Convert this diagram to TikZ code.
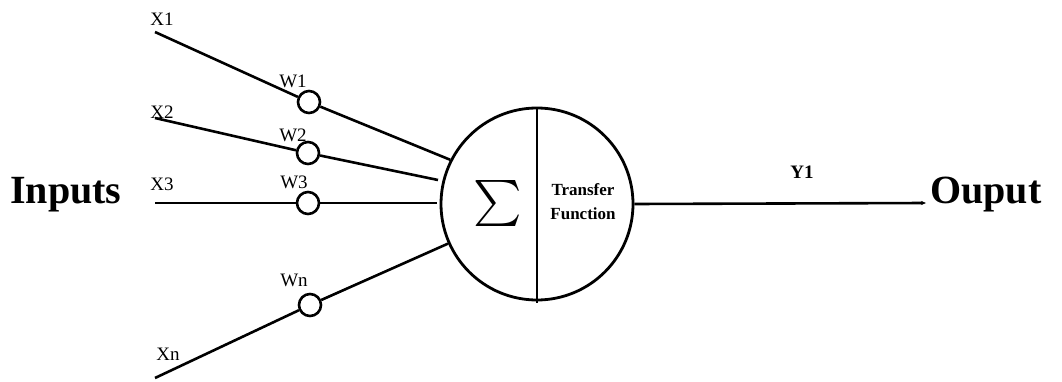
\documentclass[tikz,border=0pt]{standalone}
\usepackage{fontspec}
\usepackage{graphicx}
\setmainfont{Liberation Serif}
\usetikzlibrary{arrows.meta}
\begin{document}
\begin{tikzpicture}[x=1pt,y=1pt,
  wire/.style={line width=2.6pt},
  weight/.style={circle,draw,line width=2.6pt,minimum size=22pt,inner sep=0pt},
  lbl/.style={inner sep=0pt,font=\fontsize{19}{19}\selectfont},
  big/.style={inner sep=0pt,anchor=base west,font=\fontsize{40}{40}\selectfont\bfseries}]
\useasboundingbox (0,0) rectangle (1062,381);
% main neuron
\node[circle,draw,line width=2.8pt,minimum size=192pt,inner sep=0pt] (neuron) at (537,177) {};
\coordinate (vtop) at (537,273);
\coordinate (vbot) at (537,78);
\draw[line width=2.6pt] (vtop) -- (vbot);
\node[inner sep=0pt] (sigma) at (498,178) {\scalebox{4.6}{$\textstyle\sum$}};
\node[inner sep=0pt,align=center,font=\fontsize{17}{24}\selectfont\bfseries] (tf) at (583,179) {Transfer\\Function};
% weights
\node[weight] (w1) at (309,279) {};
\node[weight] (w2) at (308,228) {};
\node[weight] (w3) at (308,178) {};
\node[weight] (wn) at (310,76) {};
% input ends
\coordinate (x1) at (155,349);
\coordinate (x2) at (155,263);
\coordinate (x3) at (155,178);
\coordinate (xn) at (155,3);
\coordinate (e2) at (438,201);
\coordinate (e3) at (437,178);
\draw[wire] (x1) -- (w1);
\draw[wire] (x2) -- (w2);
\draw[wire] (x3) -- (w3);
\draw[wire] (xn) -- (wn);
\draw[wire] (w1) -- (neuron.153);
\draw[wire] (w2) -- (e2);
\draw[wire] (w3) -- (e3);
\draw[wire] (wn) -- (neuron.204);
% output
\coordinate (yend) at (926,178);
\draw[wire,-{Stealth[length=5pt,width=4pt]}] (neuron.east) -- (yend);
% labels
\node[lbl] (lx1) at (162,362) {X1};
\node[lbl] (lx2) at (162,269) {X2};
\node[lbl] (lx3) at (162,197) {X3};
\node[lbl] (lxn) at (168,27) {Xn};
\node[lbl] (lw1) at (293,300) {W1};
\node[lbl] (lw2) at (293,246) {W2};
\node[lbl] (lw3) at (294,199) {W3};
\node[lbl] (lwn) at (294,101) {Wn};
\node[lbl,font=\fontsize{19}{19}\selectfont\bfseries] (ly1) at (802,209) {Y1};
\node[big] (inputs) at (10,178) {Inputs};
\node[big] (output) at (930,178) {Ouput};
\end{tikzpicture}
\end{document}
